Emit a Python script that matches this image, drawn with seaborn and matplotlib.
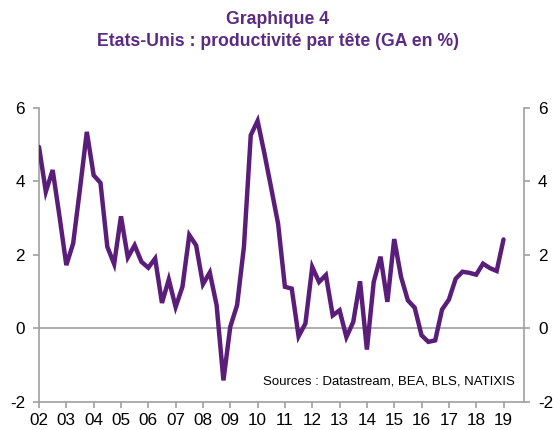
import numpy as np
import pandas as pd
import matplotlib
matplotlib.use("Agg")
import matplotlib.pyplot as plt
import seaborn as sns

# Quarterly data, 2002Q1 .. 2019Q1 (GA en %)
start_year = 2002
values = [4.94, 3.72, 4.31, 3.05, 1.72, 2.31, 3.80, 5.35,
          4.17, 3.96, 2.22, 1.75, 3.05, 1.93, 2.26, 1.81,
          1.65, 1.90, 0.69, 1.33, 0.58, 1.13, 2.54, 2.26,
          1.20, 1.52, 0.63, -1.42, 0.04, 0.63, 2.22, 5.26,
          5.65, 4.76, 3.81, 2.85, 1.13, 1.08, -0.22, 0.13,
          1.67, 1.26, 1.45, 0.35, 0.49, -0.24, 0.17, 1.28,
          -0.58, 1.26, 1.95, 0.72, 2.43, 1.40, 0.76, 0.56,
          -0.19, -0.37, -0.33, 0.51, 0.78, 1.35, 1.54, 1.51,
          1.46, 1.76, 1.64, 1.56, 2.42]
tick_years = list(range(2002, 2020))
tick_labels = [f"{y % 100:02d}" for y in tick_years]
y_ticks = [-2, 0, 2, 4, 6]

df = pd.DataFrame({
    "t": start_year + np.arange(len(values)) / 4.0,
    "v": values,
})

sns.set_style("white")
plt.rcParams['font.family'] = ['Liberation Sans', 'DejaVu Sans']

purple = "#5a1e7a"
title_col = "#5b2a82"
grey = "#a0a0a0"

fig = plt.figure(figsize=(5.53, 4.30), dpi=100)
ax = fig.add_axes([39/553, 1 - 401.7/430, (524 - 39)/553, (401.7 - 108)/430])

ax.axhline(0, color=grey, lw=1.2, zorder=1)
sns.lineplot(data=df, x="t", y="v", ax=ax, color=purple, lw=3.2,
             solid_joinstyle="miter", zorder=3)

ax.set_xlim(2002, 2019.75)
ax.set_ylim(-2, 6)
ax.set_xticks(tick_years)
ax.set_xticklabels(tick_labels)
ax.set_yticks(y_ticks)
ax.set_yticklabels([str(v) for v in y_ticks])
ax.set_xlabel("")
ax.set_ylabel("")

for side in ["left", "right", "bottom"]:
    ax.spines[side].set_visible(True)
    ax.spines[side].set_color(grey)
    ax.spines[side].set_linewidth(1.2)
ax.spines["top"].set_visible(False)

ax.tick_params(axis="both", which="both", direction="out", length=4,
               width=1.2, color=grey, labelsize=12.3, labelcolor="black")
ax.tick_params(axis="y", left=True, right=True, labelleft=True,
               labelright=True, pad=6)
ax.tick_params(axis="x", bottom=True, pad=4)

fig.text(278 / 553, 1 - 19 / 430, "Graphique 4", ha="center", va="center",
         fontsize=12.7, fontweight="bold", color=title_col)
fig.text(278 / 553, 1 - 42 / 430,
         "Etats-Unis : productivité par tête (GA en %)",
         ha="center", va="center", fontsize=12.7, fontweight="bold",
         color=title_col)

fig.text(515 / 553, 1 - 381 / 430,
         "Sources : Datastream, BEA, BLS, NATIXIS",
         ha="right", va="center", fontsize=9.5, color="black")

fig.savefig("out.png", dpi=100)
